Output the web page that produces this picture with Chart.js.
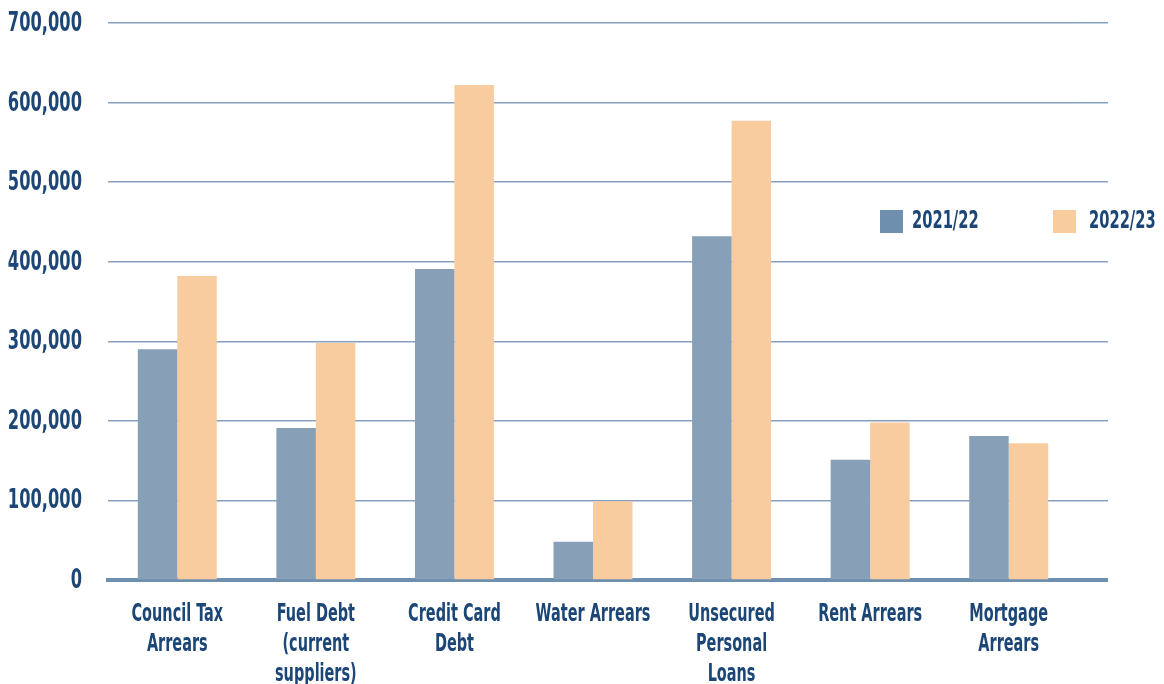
<!DOCTYPE html>
<html>
<head>
<meta charset="utf-8">
<script src="https://cdn.jsdelivr.net/npm/chart.js@4.4.1/dist/chart.umd.min.js"></script>
<style>
  html, body { margin: 0; padding: 0; background: #fff; }
  #wrap { width: 1164px; height: 684px; position: relative; }
</style>
</head>
<body>
<div id="wrap"><canvas id="debtChart"></canvas></div>
<script>
// categories and values
const categories = [
    ['Council Tax', 'Arrears'],
    ['Fuel Debt', '(current', 'suppliers)'],
    ['Credit Card', 'Debt'],
    ['Water Arrears'],
    ['Unsecured', 'Personal', 'Loans'],
    ['Rent Arrears'],
    ['Mortgage', 'Arrears']
];
const seriesNames = ['2021/22', '2022/23'];
const values2122 = [290000, 191000, 391000, 48000, 432000, 151000, 181000];
const values2223 = [382000, 298000, 622000, 99000, 577000, 198000, 172000];
const yTicks = [0, 100000, 200000, 300000, 400000, 500000, 600000, 700000];

const FONT = "'DejaVu Sans Condensed', 'DejaVu Sans', sans-serif";
const NAVY = '#1b4676';
const GRID = '#87a0bd';
const AXIS = '#6f8fae';
const GRID_W = 1.5;
const LINE_END = 1108; // grid and axis run a bit past the last category

// same pixel snapping Chart.js uses for its grid lines
function snap(px, w) {
    return Math.round(px - w / 2) + w / 2;
}

// no narrow font installed, so squeeze the text horizontally
function condensedText(ctx, text, x, y, align, sx) {
    ctx.save();
    ctx.translate(x, y);
    ctx.scale(sx, 1);
    ctx.textAlign = align;
    ctx.fillText(text, 0, 0);
    ctx.restore();
}

// stretch the gridlines and the base line out to the right
const gridTail = {
    id: 'gridTail',
    beforeDatasetsDraw(chart) {
        const ctx = chart.ctx;
        const ys = chart.scales.y;
        const right = chart.chartArea.right;
        ctx.save();
        ctx.lineCap = 'butt';
        ctx.strokeStyle = GRID;
        ctx.lineWidth = GRID_W;
        yTicks.forEach(v => {
            if (v === 0) return;
            const y = snap(ys.getPixelForValue(v), GRID_W);
            ctx.beginPath();
            ctx.moveTo(right, y);
            ctx.lineTo(LINE_END, y);
            ctx.stroke();
        });
        ctx.strokeStyle = AXIS;
        ctx.lineWidth = 4;
        const y0 = snap(chart.chartArea.bottom, 4);
        ctx.beginPath();
        ctx.moveTo(right, y0);
        ctx.lineTo(LINE_END, y0);
        ctx.stroke();
        ctx.restore();
    }
};

const axisLabels = {
    id: 'axisLabels',
    afterDraw(chart) {
        const ctx = chart.ctx;
        const xs = chart.scales.x;
        const ys = chart.scales.y;
        ctx.save();
        ctx.fillStyle = NAVY;
        ctx.textBaseline = 'middle';

        // y tick labels
        ctx.font = 'bold 27px ' + FONT;
        yTicks.forEach(v => {
            condensedText(ctx, v.toLocaleString('en-GB'), 82, ys.getPixelForValue(v) + 1, 'right', 0.67);
        });

        // category labels
        ctx.font = 'bold 24px ' + FONT;
        categories.forEach((lines, i) => {
            const x = xs.getPixelForTick(i);
            lines.forEach((line, k) => {
                condensedText(ctx, line, x, 615 + k * 30, 'center', 0.67);
            });
        });

        // legend inside the plot, top right
        const swatch = ['#6f8fae', '#f8cc9e'];
        const sqX = [880, 1053];
        const txtX = [912, 1089];
        chart.data.datasets.forEach((ds, i) => {
            ctx.fillStyle = swatch[i];
            ctx.fillRect(sqX[i], 210, 23, 23);
            ctx.fillStyle = NAVY;
            condensedText(ctx, ds.label, txtX[i], 222, 'left', 0.68);
        });
        ctx.restore();
    }
};

const ctx = document.getElementById('debtChart').getContext('2d');
new Chart(ctx, {
    type: 'bar',
    data: {
        labels: categories,
        datasets: [
            {
                label: seriesNames[0],
                data: values2122,
                backgroundColor: '#87a0b8',
                categoryPercentage: 0.57,
                barPercentage: 1.0
            },
            {
                label: seriesNames[1],
                data: values2223,
                backgroundColor: '#f8cc9e',
                categoryPercentage: 0.57,
                barPercentage: 1.0
            }
        ]
    },
    options: {
        responsive: true,
        maintainAspectRatio: false,
        animation: false,
        layout: { padding: { top: 23, right: 86, left: 0, bottom: 0 } },
        plugins: {
            legend: { display: false },
            tooltip: { enabled: false }
        },
        scales: {
            x: {
                grid: { display: false, drawTicks: false },
                border: { display: true, color: AXIS, width: 4 },
                ticks: { display: false },
                afterFit(scale) { scale.height = 104; }
            },
            y: {
                min: 0,
                max: 700000,
                afterBuildTicks(scale) {
                    scale.ticks = yTicks.map(v => ({ value: v }));
                },
                grid: {
                    color: (c) => c.tick.value === 0 ? 'rgba(0,0,0,0)' : GRID,
                    lineWidth: GRID_W,
                    drawTicks: false
                },
                border: { display: false },
                ticks: { display: false },
                afterFit(scale) { scale.width = 108; }
            }
        }
    },
    plugins: [gridTail, axisLabels]
});
</script>
</body>
</html>
